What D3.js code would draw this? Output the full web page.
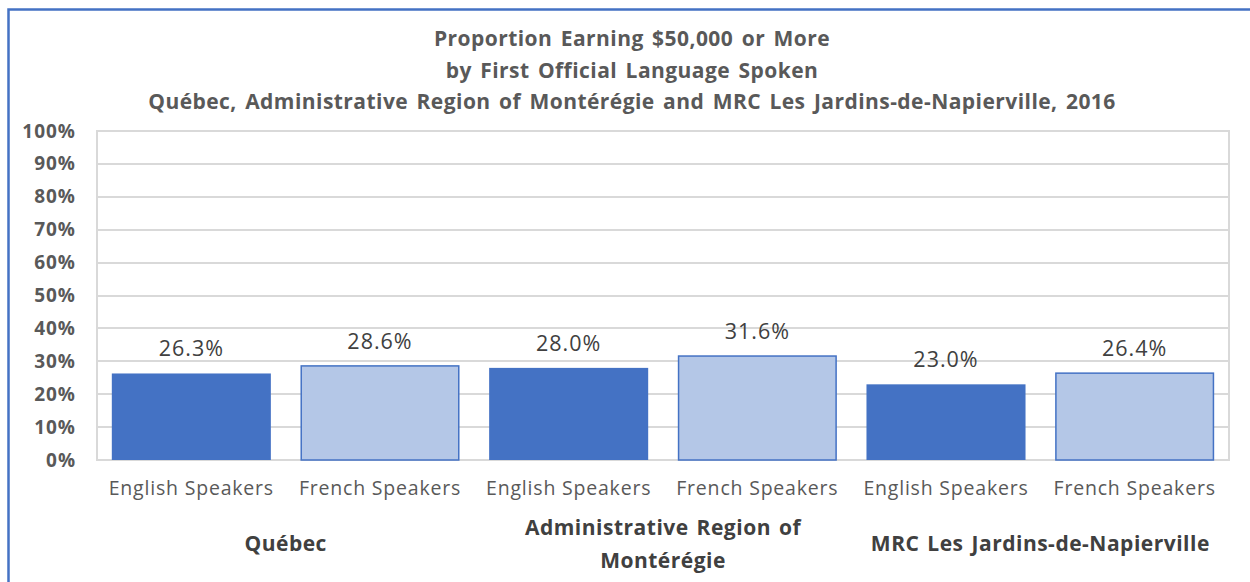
<!DOCTYPE html>
<html lang="en">
<head>
    <meta charset="UTF-8">
    <title>Proportion Earning $50,000 or More</title>
    <script src="https://d3js.org/d3.v7.min.js"></script>
    <style>
        body { margin: 0; background: #ffffff; }
        svg text { font-family: 'Open Sans', 'Lato', sans-serif; }
        .title { font-size: 21px; font-weight: bold; fill: #595959; letter-spacing: 0.45px; word-spacing: 2.5px; }
        .y-axis text { font-size: 19px; font-weight: bold; fill: #595959; letter-spacing: 1px; }
        .x-axis text { font-size: 19.5px; fill: #595959; letter-spacing: 0.8px; }
        .value-label { font-size: 21.5px; fill: #404040; letter-spacing: 1px; }
        .group-label { font-size: 21px; font-weight: bold; fill: #404040; letter-spacing: 0.5px; word-spacing: 2px; }
        .gridline { stroke: #d9d9d9; stroke-width: 2px; shape-rendering: crispEdges; }
    </style>
</head>
<body>
<div id="chart"></div>
<script>
    // data
    const categories = ["English Speakers", "French Speakers", "English Speakers", "French Speakers", "English Speakers", "French Speakers"];
    const values = [26.3, 28.6, 28.0, 31.6, 23.0, 26.4];
    const series = ["English", "French", "English", "French", "English", "French"];
    const groups = [["Québec"], ["Administrative Region of", "Montérégie"], ["MRC Les Jardins-de-Napierville"]];
    const yTicks = [0, 10, 20, 30, 40, 50, 60, 70, 80, 90, 100];
    const titleLines = [
        "Proportion Earning $50,000 or More",
        "by First Official Language Spoken",
        "Québec, Administrative Region of Montérégie and MRC Les Jardins-de-Napierville, 2016"
    ];

    const W = 1250, H = 582;
    const margin = { top: 131, right: 21, bottom: 122, left: 97 };
    const width = W - margin.left - margin.right;
    const height = H - margin.top - margin.bottom;

    const svg = d3.select("#chart").append("svg")
        .attr("width", W)
        .attr("height", H);

    // outer frame (bottom/right run off the picture)
    svg.append("rect")
        .attr("x", 8.5).attr("y", 9.5)
        .attr("width", 1260).attr("height", 600)
        .attr("fill", "none")
        .attr("stroke", "#4472c4")
        .attr("stroke-width", 2.5);

    svg.selectAll(".title")
        .data(titleLines)
        .enter().append("text")
        .attr("class", "title")
        .attr("x", 632)
        .attr("y", (d, i) => 46 + i * 31.5)
        .attr("text-anchor", "middle")
        .text(d => d);

    const g = svg.append("g")
        .attr("transform", `translate(${margin.left},${margin.top})`);

    const x = d3.scaleBand()
        .domain(d3.range(categories.length))
        .range([0, width])
        .paddingInner(0.157)
        .paddingOuter(0.0785);

    const y = d3.scaleLinear().domain([0, 100]).range([height, 0]);

    // gridlines
    g.selectAll(".gridline")
        .data(yTicks)
        .enter().append("line")
        .attr("class", "gridline")
        .attr("x1", 0).attr("x2", width)
        .attr("y1", d => y(d)).attr("y2", d => y(d));

    g.append("rect")
        .attr("width", width).attr("height", height)
        .attr("fill", "none")
        .attr("stroke", "#d9d9d9")
        .attr("stroke-width", 2)
        .attr("shape-rendering", "crispEdges");

    // y axis
    const yAxis = g.append("g")
        .attr("class", "y-axis")
        .call(d3.axisLeft(y).tickValues(yTicks).tickSize(0).tickPadding(21).tickFormat(d => d + "%"));
    yAxis.select(".domain").remove();

    // bars
    g.selectAll(".bar")
        .data(values)
        .enter().append("rect")
        .attr("class", "bar")
        .attr("x", (d, i) => x(i) + (series[i] === "French" ? 0.75 : 0))
        .attr("y", d => y(d))
        .attr("width", (d, i) => x.bandwidth() - (series[i] === "French" ? 1.5 : 0))
        .attr("height", d => y(0) - y(d))
        .attr("fill", (d, i) => series[i] === "English" ? "#4472c4" : "#b4c7e7")
        .attr("stroke", (d, i) => series[i] === "French" ? "#4472c4" : "none")
        .attr("stroke-width", 1.5);

    g.selectAll(".value-label")
        .data(values)
        .enter().append("text")
        .attr("class", "value-label")
        .attr("x", (d, i) => x(i) + x.bandwidth() / 2)
        .attr("y", d => y(d) - 17)
        .attr("text-anchor", "middle")
        .text(d => d.toFixed(1) + "%");

    // x axis (category labels)
    const xAxis = g.append("g")
        .attr("class", "x-axis")
        .attr("transform", `translate(0,${height})`)
        .call(d3.axisBottom(x).tickSize(0).tickPadding(21).tickFormat(i => categories[i]));
    xAxis.select(".domain").remove();

    // group labels
    const groupLabels = g.selectAll(".group-label")
        .data(groups)
        .enter().append("text")
        .attr("class", "group-label")
        .attr("text-anchor", "middle")
        .attr("transform", (d, i) => {
            const cx = (x(i * 2) + x(i * 2 + 1) + x.bandwidth()) / 2;
            const cy = height + (d.length > 1 ? 75 : 91);
            return `translate(${cx},${cy})`;
        });
    groupLabels.selectAll("tspan")
        .data(d => d)
        .enter().append("tspan")
        .attr("x", 0)
        .attr("dy", (d, i) => i === 0 ? 0 : 33)
        .text(d => d);
</script>
</body>
</html>
